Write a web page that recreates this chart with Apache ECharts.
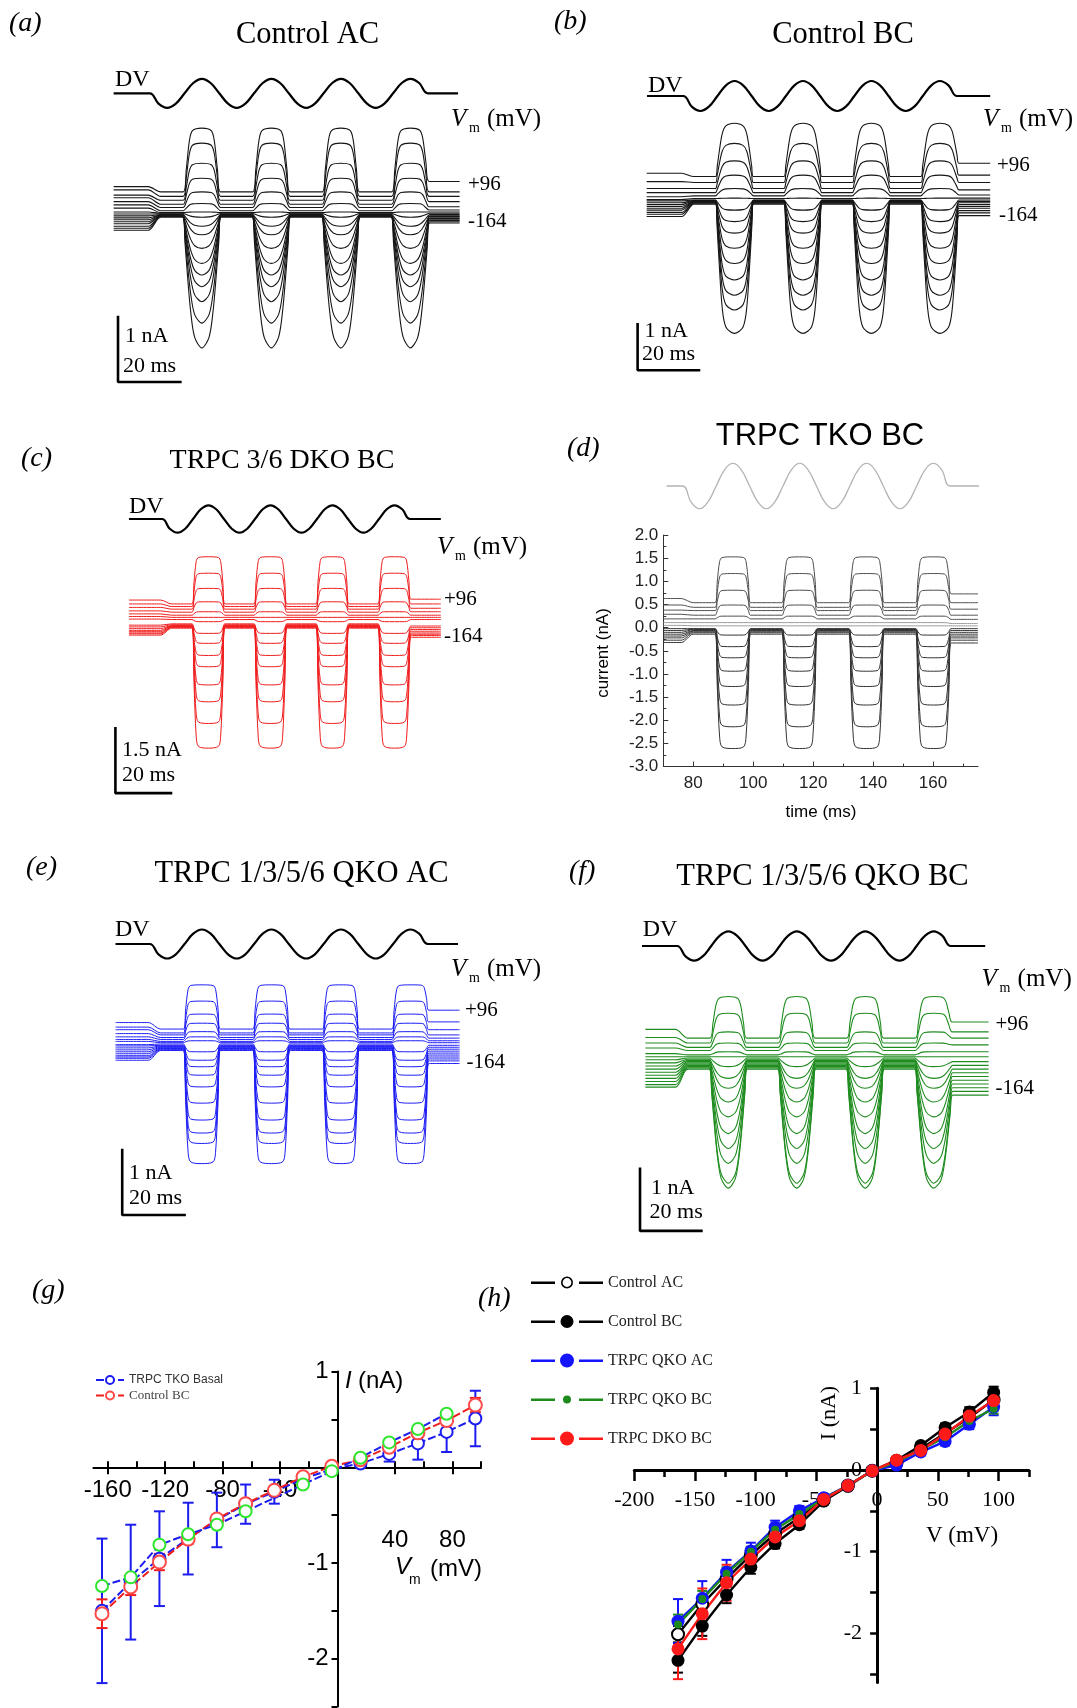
<!DOCTYPE html>
<html>
<head>
<meta charset="utf-8">
<title>TRPC mechanotransduction currents</title>
<script src="https://cdn.jsdelivr.net/npm/echarts@6.0.0/dist/echarts.min.js"></script>
<style>
  html, body { margin: 0; padding: 0; background: #fff; }
  #fig { width: 1077px; height: 1708px; }
</style>
</head>
<body>
<div id="fig"></div>
<script>
// ---------------- stimulus ----------------
const dvStartMs = 76.5;                 // onset of the sinusoidal displacement (ms)
const dvPeriodMs = 22.3;
// eighth-period levels of the displacement command
const dvKnots = [0, -0.71, -1, -0.71, 0, 0.71, 1, 0.71,
                 0, -0.71, -1, -0.71, 0, 0.71, 1, 0.71,
                 0, -0.71, -1, -0.71, 0, 0.71, 1, 0.71,
                 0, -0.71, -1, -0.71, 0, 0.71, 1, 0.71, 0];
const pulseCentersMs = [93.2, 115.5, 137.8, 160.1];
const settleMs = [-0.5, 3.5];           // holding current drifts to its new level around stimulus onset

// pulse envelopes: time from the pulse centre (ms) and fraction of the plateau reached
const domeOffsMs = [-6, -5, -4, -3, 0, 3, 4, 5, 6];
const domeFrac = [0, 0.35, 0.8, 0.96, 1, 0.96, 0.8, 0.35, 0];
const vOffsMs = [-6.2, -5.4, -4.6, -3.6, -2.3, 0, 2.3, 3.6, 4.6, 5.4, 6.2];
const vFrac = [0, 0.2, 0.45, 0.72, 0.92, 1, 0.92, 0.72, 0.45, 0.2, 0];
const uOffsMs = [-6.2, -5.6, -5, -4, -2.8, 0, 2.8, 4, 5, 5.6, 6.2];
const uFrac = [0, 0.2, 0.45, 0.8, 0.95, 1, 0.95, 0.8, 0.45, 0.2, 0];
const squareOffsMs = [-5.9, -5.2, -4.4, -3.6, 0, 3.6, 4.4, 5.2, 5.9];
const squareFrac = [0, 0.45, 0.9, 0.985, 1, 0.985, 0.9, 0.45, 0];

// ---------------- current traces (nA) ----------------
// plateau during each pulse, holding level before, between and after the stimulus
const aPeak = [1.31, 1.08, 0.77, 0.54, 0.33, 0.15, 0.02, -0.06, -0.2, -0.33, -0.54, -0.77, -0.95, -1.13, -1.36, -1.69, -2.07];
const aPre  = [0.41, 0.36, 0.28, 0.24, 0.18, 0.13, 0.08, 0.02, -0.01, -0.04, -0.07, -0.10, -0.13, -0.16, -0.2, -0.23, -0.26];
const aMid  = [0.33, 0.26, 0.2, 0.14, 0.09, 0.04, 0.01, 0.0, -0.01, -0.02, -0.03, -0.03, -0.04, -0.04, -0.05, -0.05, -0.06];
const aPost = [0.49, 0.33, 0.26, 0.18, 0.1, 0.05, 0.02, 0.0, -0.02, -0.04, -0.05, -0.07, -0.08, -0.1, -0.11, -0.13, -0.15];

const bPeak = [1.67, 1.23, 0.85, 0.54, 0.25, 0.04, -0.22, -0.47, -0.72, -1.05, -1.38, -1.74, -2.07, -2.39, -2.9];
const bPre  = [0.58, 0.40, 0.25, 0.16, 0.07, 0.01, -0.02, -0.06, -0.1, -0.14, -0.18, -0.22, -0.27, -0.31, -0.36];
const bMid  = [0.51, 0.38, 0.25, 0.16, 0.09, 0.03, 0.0, -0.01, -0.02, -0.03, -0.04, -0.05, -0.06, -0.07, -0.09];
const bPost = [0.8, 0.54, 0.38, 0.22, 0.11, 0.04, 0.0, -0.03, -0.06, -0.1, -0.14, -0.18, -0.23, -0.28, -0.34];

const cPeak = [1.5, 1.12, 0.77, 0.46, 0.23, 0.10, 0.0, -0.27, -0.5, -0.78, -1.04, -1.46, -1.85, -2.35, -2.92];
const cPre  = [0.5, 0.41, 0.33, 0.25, 0.18, 0.12, 0.06, -0.08, -0.12, -0.16, -0.2, -0.23, -0.26, -0.28, -0.31];
const cMid  = [0.41, 0.35, 0.29, 0.22, 0.15, 0.1, 0.05, -0.05, -0.07, -0.09, -0.1, -0.11, -0.12, -0.13, -0.15];
const cPost = [0.52, 0.41, 0.31, 0.23, 0.15, 0.1, 0.05, -0.1, -0.14, -0.18, -0.22, -0.26, -0.29, -0.32, -0.36];

const dPeak = [1.53, 1.17, 0.81, 0.49, 0.25, 0.11, 0.04, -0.16, -0.41, -0.65, -0.94, -1.27, -1.67, -2.14, -2.61];
const dPre  = [0.63, 0.49, 0.38, 0.29, 0.19, 0.11, 0.05, -0.02, -0.06, -0.1, -0.14, -0.18, -0.22, -0.27, -0.32];
const dMid  = [0.54, 0.44, 0.37, 0.27, 0.19, 0.11, 0.04, -0.02, -0.03, -0.04, -0.06, -0.07, -0.09, -0.11, -0.14];
const dPost = [0.73, 0.54, 0.40, 0.27, 0.18, 0.09, 0.04, -0.02, -0.06, -0.1, -0.14, -0.18, -0.22, -0.27, -0.33];

const ePeak = [0.91, 0.66, 0.46, 0.32, 0.19, 0.11, 0.05, -0.12, -0.25, -0.35, -0.48, -0.66, -0.91, -1.17, -1.37, -1.53, -1.84];
const ePre  = [0.33, 0.26, 0.22, 0.16, 0.11, 0.07, 0.04, -0.01, -0.03, -0.06, -0.09, -0.12, -0.15, -0.18, -0.2, -0.22, -0.25];
const eMid  = [0.23, 0.17, 0.14, 0.1, 0.07, 0.04, 0.02, 0.0, -0.02, -0.03, -0.04, -0.05, -0.06, -0.07, -0.08, -0.09, -0.1];
const ePost = [0.52, 0.34, 0.22, 0.14, 0.09, 0.05, 0.02, -0.02, -0.05, -0.08, -0.11, -0.14, -0.17, -0.2, -0.23, -0.26, -0.3];

const fPeak = [0.97, 0.70, 0.40, 0.22, 0.08, 0.0, -0.16, -0.35, -0.51, -0.73, -0.97, -1.24, -1.48, -1.72, -2.04, -2.12];
const fPre  = [0.44, 0.31, 0.22, 0.14, 0.05, 0.0, -0.05, -0.1, -0.15, -0.2, -0.25, -0.3, -0.35, -0.4, -0.45, -0.49];
const fMid  = [0.3, 0.22, 0.15, 0.1, 0.03, 0.0, -0.02, -0.04, -0.06, -0.08, -0.1, -0.12, -0.14, -0.16, -0.18, -0.2];
const fPost = [0.56, 0.40, 0.3, 0.19, 0.08, 0.0, -0.08, -0.14, -0.2, -0.26, -0.32, -0.38, -0.44, -0.5, -0.56, -0.62];

// scale bars
const scaleBarMs = 20;
const scaleBarNA = { a: 1, b: 1, c: 1.5, e: 1, f: 1 };

// axis ticks of the TKO recording
const dTimeTicks = [80, 100, 120, 140, 160];
const dTimeMinor = [90, 110, 130, 150, 170];

// ---------------- I–V relations ----------------
const stepMv = [-164, -144, -124, -104, -84, -64, -44, -24, -4, 16, 36, 56, 76, 96];

const tkoMean   = [-1.5, -1.2, -0.955, -0.745, -0.55, -0.385, -0.255, -0.12, -0.02, 0.04, 0.14, 0.25, 0.37, 0.51];
const tkoSem    = [0.755, 0.6, 0.495, 0.375, 0.285, 0.205, 0.125, 0.05, 0.02, 0.03, 0.08, 0.17, 0.21, 0.29];
const ctrlMean  = [-1.53, -1.25, -0.99, -0.75, -0.54, -0.38, -0.24, -0.10, 0.01, 0.08, 0.21, 0.36, 0.49, 0.65];
const ctrlSem   = [0.15, 0.085, 0.085, 0.05, 0.04, 0.03, 0.03, 0.02, 0.01, 0.02, 0.03, 0.04, 0.05, 0.075];
const tkoSecond = [-1.24, -1.15, -0.81, -0.70, -0.60, -0.46, null, -0.18, -0.04, 0.10, 0.26, 0.40, 0.56, null];
const gXLabelsLeft = [-160, -120, -80, -40];
const gXLabelsRight = [40, 80];
const gMajorTicks = [-160, -120, -80, -40, 40, 80];
const gAllTicks = [-160, -140, -120, -100, -80, -60, -40, -20, 20, 40, 60, 80, 100];
const gYTicks = [1, 0.5, 0, -0.5, -1, -1.5, -2, -2.5];
const gYLabels = [1, -1, -2];

const ctrlAcI   = [-2.01, -1.64, -1.33, -1.04, -0.78, -0.58, -0.37, -0.19, -0.01, 0.09, 0.26, 0.45, 0.64, 0.86];
const ctrlAcSem = [0.1, 0.08, 0.06, 0.05, 0.04, 0.03, 0.02, 0.02, 0.01, 0.02, 0.03, 0.04, 0.05, 0.06];
const ctrlBcI   = [-2.33, -1.91, -1.53, -1.19, -0.90, -0.67, -0.38, -0.2, -0.01, 0.12, 0.30, 0.52, 0.71, 0.95];
const ctrlBcSem = [0.15, 0.12, 0.1, 0.08, 0.06, 0.05, 0.03, 0.02, 0.01, 0.03, 0.04, 0.05, 0.06, 0.07];
const qkoAcI    = [-1.85, -1.57, -1.25, -0.99, -0.70, -0.50, -0.34, -0.19, -0.01, 0.06, 0.22, 0.35, 0.56, 0.77];
const qkoAcSem  = [0.27, 0.21, 0.15, 0.1, 0.08, 0.06, 0.04, 0.03, 0.02, 0.03, 0.04, 0.05, 0.06, 0.1];
const qkoBcI    = [-1.89, -1.58, -1.27, -1.0, -0.73, -0.54, -0.35, -0.19, -0.01, 0.1, 0.25, 0.40, 0.60, 0.75];
const qkoBcSem  = [0.12, 0.1, 0.08, 0.06, 0.05, 0.04, 0.03, 0.02, 0.01, 0.02, 0.03, 0.04, 0.05, 0.06];
const dkoBcI    = [-2.19, -1.76, -1.38, -1.09, -0.82, -0.62, -0.36, -0.19, -0.01, 0.12, 0.24, 0.44, 0.66, 0.85];
const dkoBcSem  = [0.37, 0.31, 0.22, 0.12, 0.09, 0.06, 0.04, 0.03, 0.02, 0.03, 0.04, 0.06, 0.08, 0.12];
const hXLabels = [-200, -150, -100, -50, 0, 50, 100];
const hXMinor = [-175, -125, -75, -25, 25, 75, 125];
const hYTicks = [1, 0.5, 0, -0.5, -1, -1.5, -2, -2.5];
const hYLabels = [1, 0, -1, -2];

// ---------------- layout ----------------
const SERIF = '"Liberation Serif", "Times New Roman", serif';
const SANS = '"Liberation Sans", Arial, sans-serif';
const dome = { offs: domeOffsMs, frac: domeFrac };
const vee = { offs: vOffsMs, frac: vFrac };
const ushape = { offs: uOffsMs, frac: uFrac };
const square = { offs: squareOffsMs, frac: squareFrac };
const TRACE_SMOOTH = 0.3;

const grids = [], xAxes = [], yAxes = [], series = [], texts = [];

function addGrid(rect, xr, yr, xOpt, yOpt) {
  grids.push({ left: rect.left, top: rect.top, width: rect.width, height: rect.height, containLabel: false });
  const gi = grids.length - 1;
  xAxes.push(Object.assign({ gridIndex: gi, type: 'value', min: xr[0], max: xr[1], show: false }, xOpt || {}));
  yAxes.push(Object.assign({ gridIndex: gi, type: 'value', min: yr[0], max: yr[1], show: false }, yOpt || {}));
  return { x: xAxes.length - 1, y: yAxes.length - 1, g: gi };
}
// pixel rectangle of a value window, given the panel's ms->px and nA->px mapping
function rectOf(m, xr, yr) {
  return { left: m.x0 + (xr[0] - dvStartMs) * m.k, width: (xr[1] - xr[0]) * m.k,
           top: m.y0 - yr[1] * m.s, height: (yr[1] - yr[0]) * m.s };
}

function dvPoints(span) {
  const pts = [[span[0], 0]];
  dvKnots.forEach((v, i) => pts.push([dvStartMs + i * dvPeriodMs / 8, v]));
  pts.push([span[1], 0]);
  return pts;
}

function tracePoints(p, i) {
  const shape = p.peak[i] >= p.mid[i] ? p.up : p.down;
  const pts = [[p.span[0], p.pre[i]], [dvStartMs + settleMs[0], p.pre[i]], [dvStartMs + settleMs[1], p.mid[i]]];
  pulseCentersMs.forEach((c, k) => {
    const after = k === pulseCentersMs.length - 1 ? p.post[i] : p.mid[i];
    shape.offs.forEach((o, j) => {
      const base = o < 0 ? p.mid[i] : after;
      pts.push([c + o, base + (p.peak[i] - base) * shape.frac[j]]);
    });
  });
  pts.push([p.span[1], p.post[i]]);
  return pts;
}

const panels = [
  { id: 'a', peak: aPeak, pre: aPre, mid: aMid, post: aPost, up: dome, down: vee, color: '#161616', width: 1.1,
    x0: 149.8, k: 3.117, y0: 213.3, s: 65, span: [64.9, 175.9], dvSpan: [64.9, 175.4], dvY: 93.3, dvAmp: 14.5,
    bar: { t: 66.3, v: -2.595 } },
  { id: 'b', peak: bPeak, pre: bPre, mid: bMid, post: bPost, up: ushape, down: ushape, color: '#161616', width: 1.1,
    x0: 683.2, k: 3.07, y0: 200, s: 46, span: [64.6, 176.5], dvSpan: [64.7, 176.5], dvY: 96, dvAmp: 15,
    bar: { t: 61.65, v: -3.7 } },
  { id: 'c', peak: cPeak, pre: cPre, mid: cMid, post: cPost, up: square, down: square, color: '#f01c1c', width: 1.0,
    x0: 162, k: 2.78, y0: 621.7, s: 43.3, span: [64.6, 176.8], dvSpan: [64.6, 176.8], dvY: 519, dvAmp: 13.7,
    bar: { t: 59.74, v: -3.96 } },
  { id: 'e', peak: ePeak, pre: ePre, mid: eMid, post: ePost, up: square, down: square, color: '#1c1cf5', width: 1.0,
    x0: 149.8, k: 3.117, y0: 1044, s: 65, span: [65.5, 175.9], dvSpan: [65.5, 175.4], dvY: 944, dvAmp: 14.5,
    bar: { t: 67.65, v: -2.63 } },
  { id: 'f', peak: fPeak, pre: fPre, mid: fMid, post: fPost, up: dome, down: vee, color: '#1f8c1f', width: 1.1,
    x0: 677, k: 3.07, y0: 1056.7, s: 62, span: [66.2, 178], dvSpan: [65.1, 176.9], dvY: 946, dvAmp: 14.7,
    bar: { t: 64.45, v: -2.81 } }
];

panels.forEach(p => {
  const xr = [p.span[0] - 9, p.span[1] + 2], yr = [-4.3, 2.1];
  const g = addGrid(rectOf(p, xr, yr), xr, yr);
  p.peak.forEach((_, i) => series.push({
    type: 'line', xAxisIndex: g.x, yAxisIndex: g.y, data: tracePoints(p, i),
    symbol: 'none', smooth: TRACE_SMOOTH, silent: true, clip: false,
    lineStyle: { width: p.width, color: p.color }
  }));
  series.push({
    type: 'line', xAxisIndex: g.x, yAxisIndex: g.y, symbol: 'none', silent: true, clip: false,
    data: [[p.bar.t, p.bar.v + scaleBarNA[p.id]], [p.bar.t, p.bar.v], [p.bar.t + scaleBarMs, p.bar.v]],
    lineStyle: { width: 2.6, color: '#000', cap: 'square' }
  });
  const dvM = { x0: p.x0, k: p.k, y0: p.dvY, s: p.dvAmp };
  const gd = addGrid(rectOf(dvM, xr, [-1, 1]), xr, [-1, 1]);
  series.push({
    type: 'line', xAxisIndex: gd.x, yAxisIndex: gd.y, data: dvPoints(p.dvSpan), symbol: 'none',
    smooth: 0.4, silent: true, clip: false, lineStyle: { width: 2.2, color: '#000' }
  });
});

// ----- TKO recording with axes -----
const dMap = { x0: 663.3 + (dvStartMs - 70) * 2.997, k: 2.997, y0: 627.7, s: 46.3 };
const dAxisColor = '#333';
const dg = addGrid(rectOf(dMap, [70, 175], [-3, 2]), [70, 175], [-3, 2],
  { show: true, position: 'bottom',
    axisLine: { onZero: false, lineStyle: { color: dAxisColor, width: 1 } },
    axisTick: { inside: true, length: 5, customValues: dTimeTicks, lineStyle: { color: dAxisColor } },
    axisLabel: { customValues: dTimeTicks, fontFamily: SANS, fontSize: 17, color: '#222', margin: 8 },
    splitLine: { show: false } },
  { show: true, position: 'left', interval: 0.5,
    axisLine: { onZero: false, lineStyle: { color: dAxisColor, width: 1 } },
    axisTick: { inside: true, length: 5, lineStyle: { color: dAxisColor } },
    minorTick: { show: true, splitNumber: 2, length: 3, lineStyle: { color: dAxisColor } },
    axisLabel: { fontFamily: SANS, fontSize: 17, color: '#222', margin: 5, formatter: v => v.toFixed(1) },
    splitLine: { show: false } });
xAxes.push({ gridIndex: dg.g, type: 'value', min: 70, max: 175, position: 'bottom',
  axisLine: { show: false, onZero: false }, axisLabel: { show: false }, splitLine: { show: false },
  axisTick: { inside: true, length: 3, customValues: dTimeMinor, lineStyle: { color: dAxisColor } } });
dPeak.forEach((v, i) => series.push({
  type: 'line', xAxisIndex: dg.x, yAxisIndex: dg.y, symbol: 'none', smooth: TRACE_SMOOTH, silent: true,
  data: tracePoints({ peak: dPeak, pre: dPre, mid: dMid, post: dPost, up: square, down: square, span: [70, 175] }, i),
  lineStyle: { width: 1.0, color: v > 0.2 ? '#4f4f4f' : (v > -0.1 ? '#9c9c9c' : '#333') }
}));
const dDv = addGrid(rectOf({ x0: dMap.x0, k: dMap.k, y0: 486, s: 22.8 }, [70, 175], [-1, 1]), [70, 175], [-1, 1]);
series.push({ type: 'line', xAxisIndex: dDv.x, yAxisIndex: dDv.y, data: dvPoints([71.1, 175.7]),
  symbol: 'none', smooth: 0.4, silent: true, lineStyle: { width: 1.3, color: '#b4b4b4' } });

// ---------------- error-bar renderer ----------------
function errRender(color, width, cap) {
  return function (params, api) {
    const x = api.value(0);
    const a = api.coord([x, api.value(1)]), b = api.coord([x, api.value(2)]);
    const st = { stroke: color, lineWidth: width };
    return { type: 'group', children: [
      { type: 'line', shape: { x1: a[0], y1: a[1], x2: b[0], y2: b[1] }, style: st },
      { type: 'line', shape: { x1: a[0] - cap, y1: a[1], x2: a[0] + cap, y2: a[1] }, style: st },
      { type: 'line', shape: { x1: b[0] - cap, y1: b[1], x2: b[0] + cap, y2: b[1] }, style: st }
    ] };
  };
}
function errData(mean, sem) {
  return stepMv.map((v, i) => [v, mean[i] - sem[i], mean[i] + sem[i]]);
}
function pairs(vals) { return stepMv.map((v, i) => [v, vals[i]]); }

// ---------------- TKO I–V ----------------
const gMap = { x0: 337.5, k: 1.436, y0: 1467.3, s: 95.7 };
function ivRect(m, xr, yr) {
  return { left: m.x0 + xr[0] * m.k, width: (xr[1] - xr[0]) * m.k, top: m.y0 - yr[1] * m.s, height: (yr[1] - yr[0]) * m.s };
}
const gXR = [-170, 100], gYR = [-2.5, 1];
const gd = addGrid(ivRect(gMap, gXR, gYR), gXR, gYR);
// horizontal axis through I = 0
const gxr = ivRect(gMap, gXR, gYR);
const gx = addGrid({ left: gxr.left, width: gxr.width, top: gMap.y0 - 200, height: 200 }, gXR, [0, 1],
  { show: true, position: 'bottom',
    axisLine: { onZero: false, lineStyle: { color: '#000', width: 2 } },
    axisTick: { customValues: gMajorTicks, length: 7, lineStyle: { color: '#000', width: 2 } },
    axisLabel: { customValues: gXLabelsLeft, fontFamily: SANS, fontSize: 24, color: '#000', margin: 11 },
    splitLine: { show: false } });
xAxes.push({ gridIndex: gx.g, type: 'value', min: gXR[0], max: gXR[1], position: 'bottom',
  axisLine: { show: false, onZero: false }, splitLine: { show: false },
  axisTick: { inside: true, customValues: gAllTicks, length: 6, lineStyle: { color: '#000', width: 2 } },
  axisLabel: { customValues: gXLabelsRight, fontFamily: SANS, fontSize: 24, color: '#000', margin: 61 } });
// vertical axis through V = 0
addGrid({ left: gMap.x0, width: 100, top: gxr.top, height: gxr.height }, [0, 1], gYR, null,
  { show: true, position: 'left',
    axisLine: { onZero: false, lineStyle: { color: '#000', width: 2 } },
    axisTick: { customValues: gYTicks, length: 6, lineStyle: { color: '#000', width: 2 } },
    axisLabel: { customValues: gYLabels, fontFamily: SANS, fontSize: 24, color: '#000', margin: 9 },
    splitLine: { show: false } });

const gBlue = '#1c1cf0', gRed = '#f01e1e', gGreen = '#2ee62e';
series.push(
  { type: 'line', name: 'TRPC TKO Basal', xAxisIndex: gd.x, yAxisIndex: gd.y, data: pairs(tkoMean),
    symbol: 'emptyCircle', symbolSize: 12, itemStyle: { color: gBlue, borderWidth: 1.6 },
    lineStyle: { color: gBlue, width: 2, type: [8, 3] } },
  { type: 'custom', xAxisIndex: gd.x, yAxisIndex: gd.y, data: errData(tkoMean, tkoSem),
    renderItem: errRender(gBlue, 2, 5.5), silent: true },
  { type: 'line', name: 'Control BC\u200b', xAxisIndex: gd.x, yAxisIndex: gd.y, data: pairs(ctrlMean),
    symbol: 'emptyCircle', symbolSize: 13, itemStyle: { color: '#ff4a4a', borderWidth: 1.6 },
    lineStyle: { color: gRed, width: 2, type: [8, 3] } },
  { type: 'custom', xAxisIndex: gd.x, yAxisIndex: gd.y, data: errData(ctrlMean, ctrlSem),
    renderItem: errRender(gRed, 2, 5.5), silent: true },
  { type: 'line', name: 'TRPC TKO, second set', xAxisIndex: gd.x, yAxisIndex: gd.y,
    data: pairs(tkoSecond).filter(d => d[1] !== null), connectNulls: true,
    symbol: 'emptyCircle', symbolSize: 12, itemStyle: { color: gGreen, borderWidth: 2.6 },
    lineStyle: { color: gBlue, width: 2, type: [8, 3] } }
);

// ---------------- QKO / DKO I–V ----------------
const hMap = { x0: 877.1, k: 1.214, y0: 1470, s: 81.7 };
const hXR = [-200, 125], hYR = [-2.6, 1];
const hd = addGrid(ivRect(hMap, hXR, hYR), hXR, hYR);
const hxr = ivRect(hMap, hXR, hYR);
const hx = addGrid({ left: hxr.left, width: hxr.width, top: hMap.y0 - 200, height: 200 }, hXR, [0, 1],
  { show: true, position: 'bottom',
    axisLine: { onZero: false, lineStyle: { color: '#000', width: 3 } },
    axisTick: { customValues: hXLabels, length: 11, lineStyle: { color: '#000', width: 2.5 } },
    axisLabel: { customValues: hXLabels, fontFamily: SERIF, fontSize: 22, color: '#000', margin: 19 },
    splitLine: { show: false } });
xAxes.push({ gridIndex: hx.g, type: 'value', min: hXR[0], max: hXR[1], position: 'bottom',
  axisLine: { show: false, onZero: false }, axisLabel: { show: false }, splitLine: { show: false },
  axisTick: { customValues: hXMinor, length: 7, lineStyle: { color: '#000', width: 2.5 } } });
addGrid({ left: hMap.x0, width: 100, top: hxr.top, height: hxr.height }, [0, 1], hYR, null,
  { show: true, position: 'left',
    axisLine: { onZero: false, lineStyle: { color: '#000', width: 3 } },
    axisTick: { customValues: hYTicks, length: 7, lineStyle: { color: '#000', width: 2.5 } },
    axisLabel: { customValues: hYLabels, fontFamily: SERIF, fontSize: 22, color: '#000', margin: 15 },
    splitLine: { show: false } });

// legend glyphs: broken line with the marker in the gap (72 x 14 box)
const LINE_L = 'M0,6 H24 V8.4 H0 Z ';
const LINE_R = 'M48,6 H72 V8.4 H48 Z ';
const EDGE = 'M36,0 h0.01 v0.01 h-0.01 Z M36,14 h0.01 v-0.01 h-0.01 Z ';
const dot = r => 'M' + (36 - r) + ',7 a' + r + ',' + r + ' 0 1,0 ' + (2 * r) + ',0 a' + r + ',' + r + ' 0 1,0 ' + (-2 * r) + ',0 Z ';
const ring = (r, w) => dot(r) + 'M' + (36 - r + w) + ',7 a' + (r - w) + ',' + (r - w) + ' 0 1,1 ' + (2 * (r - w)) + ',0 a' + (r - w) + ',' + (r - w) + ' 0 1,1 ' + (-2 * (r - w)) + ',0 Z ';

const hSets = [
  { name: 'Control AC', vals: ctrlAcI, sem: ctrlAcSem, color: '#000', symbol: 'emptyCircle', size: 12, glyph: ring(6, 1.6) },
  { name: 'Control BC', vals: ctrlBcI, sem: ctrlBcSem, color: '#000', symbol: 'circle', size: 13, glyph: dot(6.5) },
  { name: 'TRPC QKO AC', vals: qkoAcI, sem: qkoAcSem, color: '#1414ff', symbol: 'circle', size: 13, glyph: dot(7) },
  { name: 'TRPC QKO BC', vals: qkoBcI, sem: qkoBcSem, color: '#1e8a1e', symbol: 'circle', size: 8, glyph: dot(4) },
  { name: 'TRPC DKO BC', vals: dkoBcI, sem: dkoBcSem, color: '#ff1a1a', symbol: 'circle', size: 13, glyph: dot(7) }
];
hSets.forEach(h => {
  series.push(
    { type: 'custom', xAxisIndex: hd.x, yAxisIndex: hd.y, data: errData(h.vals, h.sem),
      renderItem: errRender(h.color, 2, 5), silent: true },
    { type: 'line', name: h.name, xAxisIndex: hd.x, yAxisIndex: hd.y, data: pairs(h.vals),
      symbol: h.symbol, symbolSize: h.size,
      itemStyle: { color: h.color, borderWidth: h.symbol === 'emptyCircle' ? 1.6 : 0 },
      lineStyle: { color: h.color, width: 2.4 } }
  );
});

// ---------------- text ----------------
function txt(x, y, text, font, align, extra) {
  texts.push(Object.assign({ type: 'text', x: x, y: y, silent: true, z: 50,
    style: { text: text, font: font, fill: '#000', align: align || 'left', verticalAlign: 'middle' } }, extra || {}));
}
const f = (size, fam, style) => (style ? style + ' ' : '') + size + 'px ' + fam;

// panel letters
[['(a)', 9, 23.5], ['(b)', 554, 21.5], ['(c)', 21, 458.5], ['(d)', 567, 448.5],
 ['(e)', 26, 867.5], ['(f)', 569, 871.5], ['(g)', 32, 1290.5], ['(h)', 478, 1298.5]]
  .forEach(l => txt(l[1], l[2], l[0], f(28, SERIF, 'italic')));

// titles
txt(307.5, 35, 'Control AC', f(30.5, SERIF), 'center');
txt(843, 35, 'Control BC', f(30.5, SERIF), 'center');
txt(282, 461, 'TRPC 3/6 DKO BC', f(28, SERIF), 'center');
txt(820, 436, 'TRPC TKO BC', f(31, SANS), 'center');
txt(301.5, 874, 'TRPC 1/3/5/6 QKO AC', f(30.5, SERIF), 'center');
txt(822.5, 876.5, 'TRPC 1/3/5/6 QKO BC', f(30.5, SERIF), 'center');

// stimulus labels, membrane potential labels
function vmLabel(x, y, fam, size) {
  txt(x, y, 'V', f(size, fam, 'italic'));
  txt(x + 18, y + 9, 'm', f(Math.round(size * 0.56), fam));
  txt(x + 36, y, '(mV)', f(size, fam));
}
[[115, 79.5], [648, 85.5], [129, 506.5], [115, 929.5], [642.7, 930]].forEach(d => txt(d[0], d[1], 'DV', f(24, SERIF)));
[[451, 119], [983, 119], [437, 547], [451, 969], [981.6, 979]].forEach(d => vmLabel(d[0], d[1], SERIF, 25));
[[468, 184.5], [997, 165], [444, 599.5], [465, 1010.5], [995.5, 1024.5]].forEach(d => txt(d[0], d[1], '+96', f(21, SERIF)));
[[468, 221.5], [999, 215], [444, 636.5], [466.6, 1062.5], [995.5, 1088.5]].forEach(d => txt(d[0], d[1], '-164', f(21, SERIF)));

// scale bar captions
[[125, 336.5, '1 nA'], [123, 366.5, '20 ms'], [644.5, 331, '1 nA'], [642, 354.5, '20 ms'],
 [122, 750.5, '1.5 nA'], [122, 775.5, '20 ms'], [129, 1173.5, '1 nA'], [129, 1198.5, '20 ms'],
 [651, 1188.5, '1 nA'], [649.6, 1212.5, '20 ms']].forEach(d => txt(d[0], d[1], d[2], f(22, SERIF)));

// TKO axis names
txt(603, 653, 'current (nA)', f(17, SANS), 'center', { rotation: Math.PI / 2 });
txt(821, 812, 'time (ms)', f(17, SANS), 'center');

// I–V axis names
txt(345, 1381, 'I', f(24, SANS, 'italic'));
txt(358, 1381, '(nA)', f(24, SANS));
txt(395, 1567, 'V', f(24, SANS, 'italic'));
txt(409, 1580, 'm', f(14, SANS));
txt(430, 1569, '(mV)', f(24, SANS));
txt(829, 1413, 'I (nA)', f(22, SERIF), 'center', { rotation: Math.PI / 2 });
txt(962, 1536, 'V (mV)', f(23, SERIF), 'center');

const option = {
  animation: false,
  backgroundColor: '#fff',
  textStyle: { fontFamily: SERIF },
  grid: grids,
  xAxis: xAxes,
  yAxis: yAxes,
  legend: [
    { orient: 'vertical', left: 95, top: 1374, padding: 0, itemWidth: 28, itemHeight: 10, itemGap: 3,
      selectedMode: false,
      data: [
        { name: 'TRPC TKO Basal', textStyle: { fontFamily: SANS, fontSize: 12, color: '#333', lineHeight: 12 } },
        { name: 'Control BC\u200b', textStyle: { fontFamily: SERIF, fontSize: 13, color: '#444', lineHeight: 12 } }
      ] },
    { orient: 'vertical', left: 531, top: 1274.5, padding: 0, itemWidth: 72, itemHeight: 14, itemGap: 23,
      selectedMode: false,
      textStyle: { fontFamily: SERIF, fontSize: 16, color: '#222', lineHeight: 14 },
      data: hSets.map(h => ({ name: h.name, icon: 'path://' + LINE_L + LINE_R + EDGE + h.glyph, itemStyle: { color: h.color } })) }
  ],
  series: series,
  graphic: { elements: texts }
};

const chart = echarts.init(document.getElementById('fig'), null, { renderer: 'canvas', width: 1077, height: 1708 });
chart.setOption(option);
</script>
</body>
</html>
